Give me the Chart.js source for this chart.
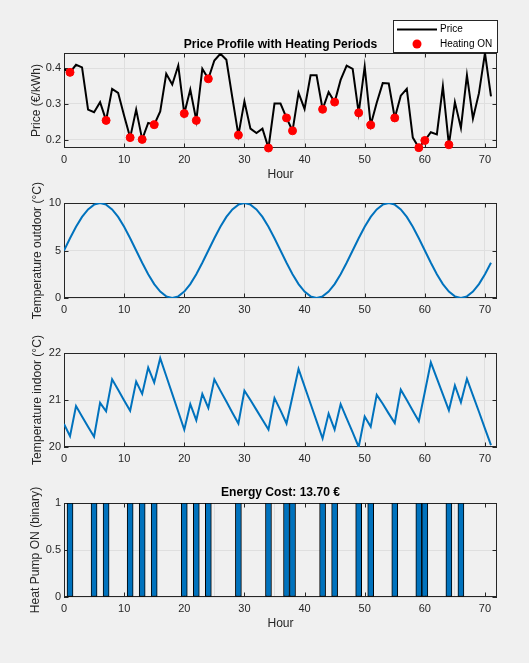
<!DOCTYPE html>
<html>
<head>
<meta charset="utf-8">
<title>Heating schedule</title>
<script src="https://cdn.jsdelivr.net/npm/chart.js@4.4.1/dist/chart.umd.min.js"></script>
<style>
    html, body { margin: 0; padding: 0; background: #f0f0f0; }
    #fig { position: relative; width: 529px; height: 663px; overflow: hidden; }
    canvas { position: absolute; left: 0; }
</style>
</head>
<body>
<div id="fig">
    <!-- canvases overlap a little so the long y labels have room -->
    <canvas id="priceChart" width="529" height="190" style="top:0px"></canvas>
    <canvas id="outdoorChart" width="529" height="170" style="top:170px"></canvas>
    <canvas id="indoorChart" width="529" height="170" style="top:320px"></canvas>
    <canvas id="pumpChart" width="529" height="203" style="top:460px"></canvas>
</div>
<script>
// ---- data ----
const hours = [0, 1, 2, 3, 4, 5, 6, 7, 8, 9, 10, 11, 12, 13, 14, 15, 16, 17, 18, 19, 20, 21, 22, 23,
    24, 25, 26, 27, 28, 29, 30, 31, 32, 33, 34, 35, 36, 37, 38, 39, 40, 41, 42, 43, 44, 45, 46, 47,
    48, 49, 50, 51, 52, 53, 54, 55, 56, 57, 58, 59, 60, 61, 62, 63, 64, 65, 66, 67, 68, 69, 70, 71];

const price = [0.397, 0.388, 0.409, 0.402, 0.284, 0.277, 0.305, 0.254, 0.342, 0.331, 0.267, 0.206,
    0.284, 0.201, 0.247, 0.242, 0.279, 0.384, 0.354, 0.407, 0.273, 0.340, 0.254, 0.398,
    0.370, 0.421, 0.440, 0.423, 0.317, 0.213, 0.307, 0.231, 0.219, 0.231, 0.177, 0.301,
    0.301, 0.261, 0.225, 0.331, 0.286, 0.380, 0.380, 0.285, 0.333, 0.305, 0.367, 0.407,
    0.398, 0.275, 0.404, 0.241, 0.303, 0.358, 0.357, 0.261, 0.323, 0.342, 0.206, 0.178,
    0.198, 0.221, 0.215, 0.349, 0.186, 0.305, 0.233, 0.380, 0.259, 0.330, 0.442, 0.321];

// hours marked with a red dot on the price plot
const heatingDotHours = [1, 7, 11, 13, 15, 20, 22, 24, 29, 34, 37, 38, 43, 45, 49, 51, 55, 59, 60, 64];

const outdoorTemp = [5.00, 6.29, 7.50, 8.54, 9.33, 9.83, 10.00, 9.83, 9.33, 8.54, 7.50, 6.29,
    5.00, 3.71, 2.50, 1.46, 0.67, 0.17, 0.00, 0.17, 0.67, 1.46, 2.50, 3.71,
    5.00, 6.29, 7.50, 8.54, 9.33, 9.83, 10.00, 9.83, 9.33, 8.54, 7.50, 6.29,
    5.00, 3.71, 2.50, 1.46, 0.67, 0.17, 0.00, 0.17, 0.67, 1.46, 2.50, 3.71,
    5.00, 6.29, 7.50, 8.54, 9.33, 9.83, 10.00, 9.83, 9.33, 8.54, 7.50, 6.29,
    5.00, 3.71, 2.50, 1.46, 0.67, 0.17, 0.00, 0.17, 0.67, 1.46, 2.50, 3.71];

const indoorTemp = [20.49, 20.23, 20.87, 20.65, 20.43, 20.22, 20.94, 20.76, 21.44, 21.22, 20.99, 20.77,
    21.39, 21.13, 21.69, 21.37, 21.89, 21.51, 21.13, 20.75, 20.37, 20.91, 20.57, 21.13,
    20.83, 21.44, 21.20, 20.97, 20.73, 20.50, 21.20, 21.00, 20.79, 20.58, 20.37, 21.04,
    20.78, 20.50, 21.08, 21.66, 21.29, 20.92, 20.55, 20.18, 20.71, 20.37, 20.91, 20.61,
    20.31, 20.00, 20.65, 20.43, 21.11, 20.92, 20.71, 20.51, 21.22, 21.00, 20.77, 20.55,
    21.17, 21.80, 21.46, 21.12, 20.78, 21.31, 20.95, 21.45, 21.10, 20.75, 20.39, 20.04];

const heatPumpOn = [0, 1, 0, 0, 0, 1, 0, 1, 0, 0, 0, 1, 0, 1, 0, 1, 0, 0, 0, 0, 1, 0, 1, 0,
    1, 0, 0, 0, 0, 1, 0, 0, 0, 0, 1, 0, 0, 1, 1, 0, 0, 0, 0, 1, 0, 1, 0, 0,
    0, 1, 0, 1, 0, 0, 0, 1, 0, 0, 0, 1, 1, 0, 0, 0, 1, 0, 1, 0, 0, 0, 0, 0];

const hourTicks = [0, 10, 20, 30, 40, 50, 60, 70];
const priceTicks = [0.2, 0.3, 0.4];
const outdoorTicks = [0, 5, 10];
const indoorTicks = [20, 21, 22];
const pumpTicks = [0, 0.5, 1];

const energyCost = 13.70;

// ---- styling ----
const axisColor = '#262626';
const gridColor = '#dfdfdf';
const blue = '#0072bd';
const fontFamily = '"Liberation Sans", Arial, Helvetica, sans-serif';
const labelSize = 12.1;
const labelHalfLine = labelSize * 1.2 / 2;

Chart.defaults.font.family = fontFamily;
Chart.defaults.color = axisColor;
Chart.defaults.animation = false;

// draws the axes box, the inward tick marks and the y label (matlab look)
const frame = {
    id: 'frame',
    beforeDatasetsDraw(chart, args, opts) {
        const { ctx, chartArea: a, scales } = chart;
        const len = 4.5;
        ctx.save();
        ctx.strokeStyle = axisColor;
        ctx.lineWidth = 1;
        ctx.strokeRect(a.left + 0.5, a.top + 0.5, a.right - a.left - 1, a.bottom - a.top - 1);
        ctx.beginPath();
        scales.x.ticks.forEach(t => {
            const px = Math.round(scales.x.getPixelForValue(t.value)) + 0.5;
            ctx.moveTo(px, a.bottom); ctx.lineTo(px, a.bottom - len);
            ctx.moveTo(px, a.top); ctx.lineTo(px, a.top + len);
        });
        scales.y.ticks.forEach(t => {
            const py = Math.round(scales.y.getPixelForValue(t.value)) + 0.5;
            ctx.moveTo(a.left, py); ctx.lineTo(a.left + len, py);
            ctx.moveTo(a.right, py); ctx.lineTo(a.right - len, py);
        });
        ctx.stroke();

        ctx.translate(opts.titleX, (a.top + a.bottom) / 2);
        ctx.rotate(-Math.PI / 2);
        ctx.font = labelSize + 'px ' + fontFamily;
        ctx.fillStyle = axisColor;
        ctx.textAlign = 'center';
        ctx.textBaseline = 'middle';
        ctx.fillText(opts.title, 0, 0);
        ctx.restore();
    }
};

// boxed legend sitting above the top right corner of the price axes
const legendBox = {
    id: 'legendBox',
    afterDraw(chart) {
        const ctx = chart.ctx;
        const lineSet = chart.data.datasets.find(d => d.label === 'Price');
        const dotSet = chart.data.datasets.find(d => d.label === 'Heating ON');
        ctx.save();
        ctx.fillStyle = '#ffffff';
        ctx.fillRect(393.5, 20.5, 104, 32);
        ctx.strokeStyle = axisColor;
        ctx.lineWidth = 1;
        ctx.strokeRect(393.5, 20.5, 104, 32);

        ctx.strokeStyle = lineSet.borderColor;
        ctx.lineWidth = lineSet.borderWidth;
        ctx.beginPath();
        ctx.moveTo(397, 29.5);
        ctx.lineTo(437, 29.5);
        ctx.stroke();

        ctx.fillStyle = dotSet.backgroundColor;
        ctx.beginPath();
        ctx.arc(417, 44, dotSet.pointRadius + 0.5, 0, Math.PI * 2);
        ctx.fill();

        ctx.font = '10px ' + fontFamily;
        ctx.fillStyle = '#000000';
        ctx.textBaseline = 'middle';
        ctx.fillText(lineSet.label, 440, 29.5);
        ctx.fillText(dotSet.label, 440, 44.5);
        ctx.restore();
    }
};

// p: height of canvas, areaTop/areaBottom inside it, axis settings
function panelOptions(p) {
    const titlePadTop = p.titleY - labelHalfLine;
    return {
        responsive: false,
        events: [],
        layout: { padding: { left: 0, right: 32, top: p.title ? 0 : p.areaTop, bottom: 0 } },
        plugins: {
            legend: { display: false },
            tooltip: { enabled: false },
            title: {
                display: !!p.title,
                text: p.title || '',
                fullSize: false,
                color: '#000000',
                font: { size: labelSize, weight: 'bold' },
                padding: { top: titlePadTop, bottom: p.areaTop - titlePadTop - labelSize * 1.2 }
            },
            frame: { title: p.yTitle, titleX: p.yTitleX }
        },
        scales: {
            x: {
                type: 'linear',
                min: 0,
                max: 72,
                offset: false,
                afterBuildTicks: s => { s.ticks = hourTicks.map(v => ({ value: v })); },
                afterFit: s => { s.height = p.height - p.areaBottom; },
                grid: { color: gridColor, drawTicks: false },
                border: { display: false },
                ticks: { padding: 5, maxRotation: 0, font: { size: 11 }, callback: v => String(v) },
                title: {
                    display: !!p.hourTitle,
                    text: 'Hour',
                    font: { size: labelSize },
                    padding: { top: 0, bottom: p.height - (p.areaBottom + 27) - labelHalfLine }
                }
            },
            y: {
                min: p.yMin,
                max: p.yMax,
                afterBuildTicks: s => { s.ticks = p.yTicks.map(v => ({ value: v })); },
                afterFit: s => { s.width = 64; },
                grid: { color: gridColor, drawTicks: false },
                border: { display: false },
                ticks: { padding: 3, font: { size: 11 }, callback: v => String(v) }
            }
        }
    };
}

function xy(values) {
    return hours.map((h, i) => ({ x: h, y: values[i] }));
}

function loadPriceChart() {
    const opts = panelOptions({
        height: 190, areaTop: 53, areaBottom: 148, titleY: 45,
        title: 'Price Profile with Heating Periods', hourTitle: true,
        yMin: Math.min(...price), yMax: Math.max(...price), yTicks: priceTicks,
        yTitle: 'Price (€/kWh)', yTitleX: 37
    });
    new Chart(document.getElementById('priceChart'), {
        type: 'line',
        data: {
            datasets: [{
                label: 'Price',
                data: xy(price),
                borderColor: '#000000',
                borderWidth: 2,
                pointRadius: 0,
                tension: 0,
                order: 2
            }, {
                type: 'scatter',
                label: 'Heating ON',
                data: heatingDotHours.map(h => ({ x: h, y: price[hours.indexOf(h)] })),
                backgroundColor: '#ff0000',
                borderColor: '#ff0000',
                pointRadius: 4,
                pointBorderWidth: 1,
                clip: false,
                order: 1
            }]
        },
        options: opts,
        plugins: [frame, legendBox]
    });
}

function loadOutdoorChart() {
    const opts = panelOptions({
        height: 170, areaTop: 33, areaBottom: 128,
        yMin: 0, yMax: 10, yTicks: outdoorTicks,
        yTitle: 'Temperature outdoor (°C)', yTitleX: 38
    });
    new Chart(document.getElementById('outdoorChart'), {
        type: 'line',
        data: {
            datasets: [{
                label: 'Outdoor',
                data: xy(outdoorTemp),
                borderColor: blue,
                borderWidth: 2,
                pointRadius: 0,
                tension: 0
            }]
        },
        options: opts,
        plugins: [frame]
    });
}

function loadIndoorChart() {
    const opts = panelOptions({
        height: 170, areaTop: 33, areaBottom: 127,
        yMin: 20, yMax: 22, yTicks: indoorTicks,
        yTitle: 'Temperature indoor (°C)', yTitleX: 38
    });
    new Chart(document.getElementById('indoorChart'), {
        type: 'line',
        data: {
            datasets: [{
                label: 'Indoor',
                data: xy(indoorTemp),
                borderColor: blue,
                borderWidth: 2,
                pointRadius: 0,
                tension: 0
            }]
        },
        options: opts,
        plugins: [frame]
    });
}

function loadPumpChart() {
    const opts = panelOptions({
        height: 203, areaTop: 43, areaBottom: 137, titleY: 33,
        title: 'Energy Cost: ' + energyCost.toFixed(2) + ' €', hourTitle: true,
        yMin: 0, yMax: 1, yTicks: pumpTicks,
        yTitle: 'Heat Pump ON (binary)', yTitleX: 36
    });
    new Chart(document.getElementById('pumpChart'), {
        type: 'bar',
        data: {
            datasets: [{
                label: 'Heat pump',
                // off hours get no bar at all
                data: hours.map((h, i) => ({ x: h, y: heatPumpOn[i] ? heatPumpOn[i] : null })),
                backgroundColor: blue,
                borderColor: '#000000',
                borderWidth: 1,
                borderSkipped: false,
                barThickness: 6
            }]
        },
        options: opts,
        plugins: [frame]
    });
}

loadPriceChart();
loadOutdoorChart();
loadIndoorChart();
loadPumpChart();
</script>
</body>
</html>
